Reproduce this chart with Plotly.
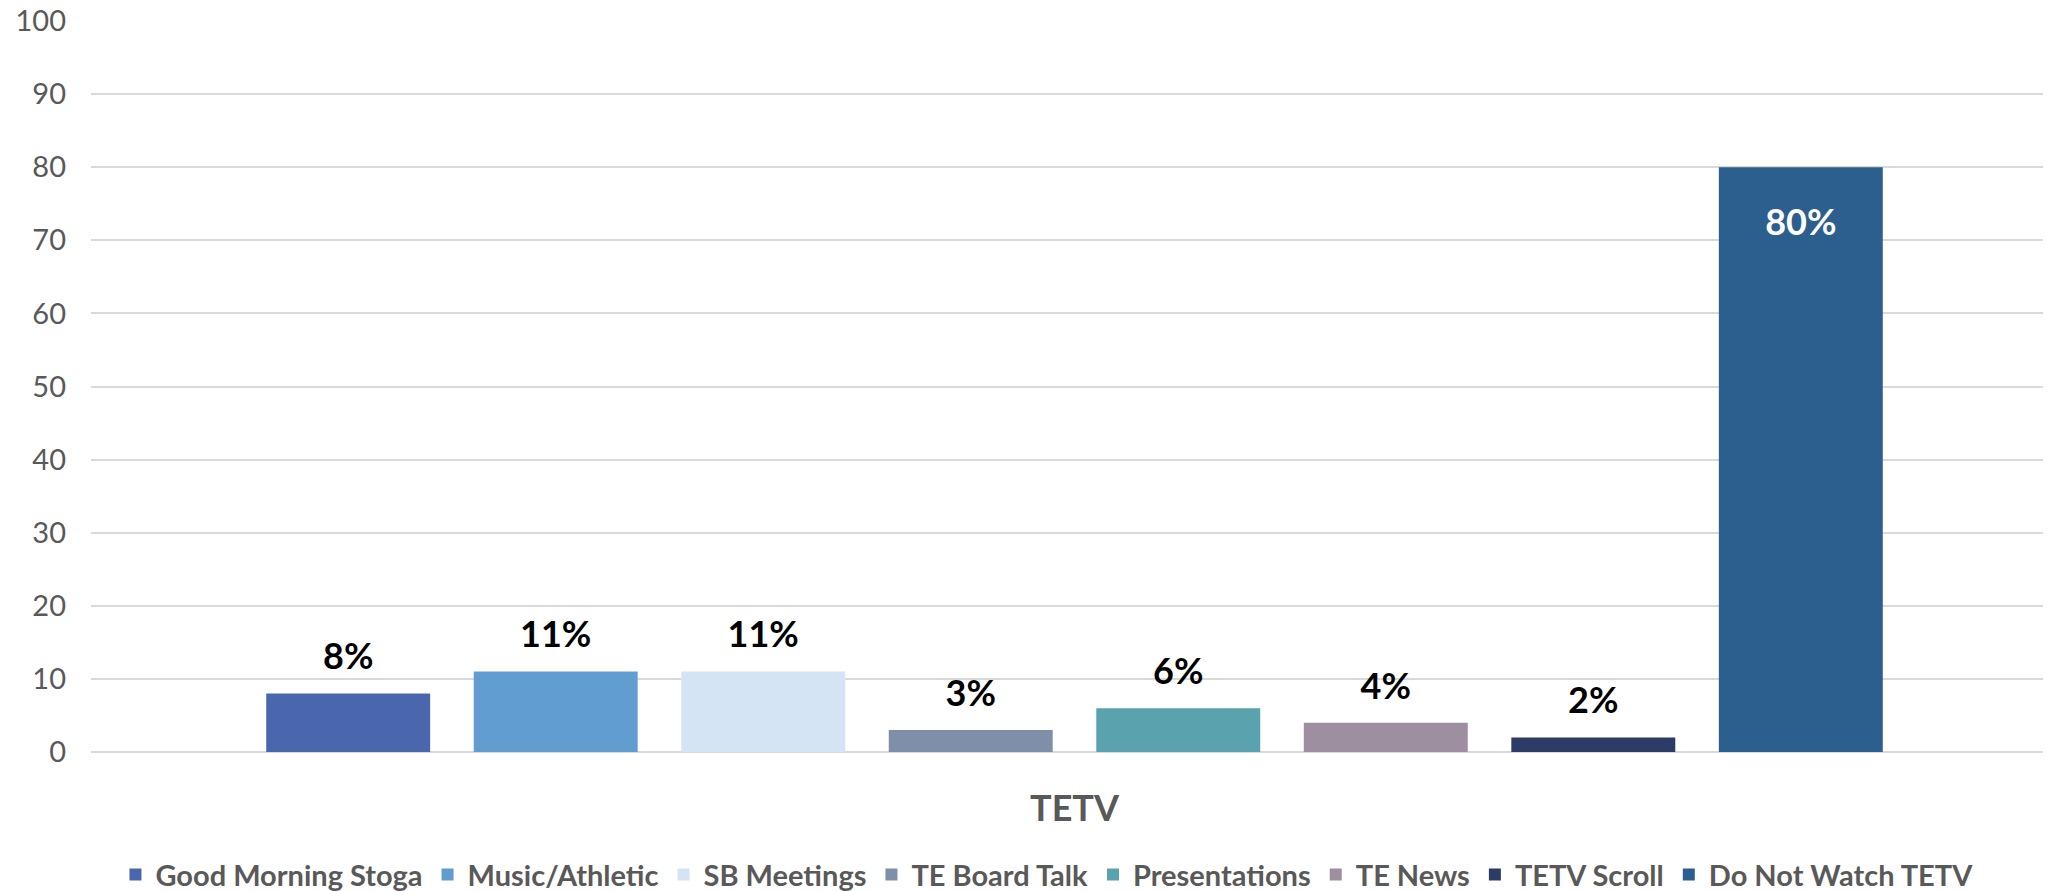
import plotly.graph_objects as go

# data
category = ["TETV"]
series_names = [
    "Good Morning Stoga", "Music/Athletic", "SB Meetings", "TE Board Talk",
    "Presentations", "TE News", "TETV Scroll", "Do Not Watch TETV",
]
series_values = [8, 11, 11, 3, 6, 4, 2, 80]
series_colors = [
    "#4A66AC", "#629DD1", "#D4E4F5", "#7F8FA9",
    "#5AA2AE", "#9D8FA0", "#2D3C66", "#2C5F8E",
]
y_ticks = list(range(0, 101, 10))

LABEL_PX = 36

fig = go.Figure()
for name, val, color in zip(series_names, series_values, series_colors):
    inside = val > 50
    big = f"<span style='font-size:{LABEL_PX}px'>{val}%</span>"
    # spacer lines nudge the labels away from the bar ends, like in Excel
    if inside:
        label, base_size = f"\u00a0<br>{big}", 28
    else:
        label, base_size = f"{big}<br>\u00a0", 14
    fig.add_trace(go.Bar(
        x=category,
        y=[val],
        name=name,
        marker=dict(color=color, line=dict(width=0)),
        text=[label],
        textposition="inside" if inside else "outside",
        insidetextanchor="end",
        textangle=0,
        cliponaxis=False,
        textfont=dict(family="Lato", size=base_size,
                      color="white" if inside else "black", weight="bold"),
    ))

fig.update_layout(
    width=2051, height=883,
    template="plotly_white",
    barmode="group",
    bargap=0.156,
    bargroupgap=0.21,
    font=dict(family="Lato", color="#595959"),
    plot_bgcolor="white",
    paper_bgcolor="white",
    margin=dict(l=83, r=1, t=13, b=139, autoexpand=False),
    uniformtext=dict(mode=False),
    legend=dict(
        orientation="h",
        x=0.486, xanchor="center",
        y=-0.133, yanchor="top",
        font=dict(family="Lato", size=29, color="#595959", weight="bold"),
        traceorder="normal",
    ),
)

fig.update_xaxes(
    automargin=False,
    showgrid=False,
    showline=False,
    tickfont=dict(family="Lato", size=36, color="#595959", weight="bold"),
    ticks="",
    ticklabelstandoff=32,
)

fig.update_yaxes(
    automargin=False,
    range=[0, 100],
    tickvals=y_ticks,
    showgrid=True,
    gridcolor="#D9D9D9",
    gridwidth=2,
    zeroline=True,
    zerolinecolor="#D9D9D9",
    zerolinewidth=2,
    showline=False,
    ticks="",
    ticklabeloverflow="allow",
    tickfont=dict(family="Lato", size=29, color="#595959"),
    ticklabelstandoff=24,
)

fig.write_html("out.html")
